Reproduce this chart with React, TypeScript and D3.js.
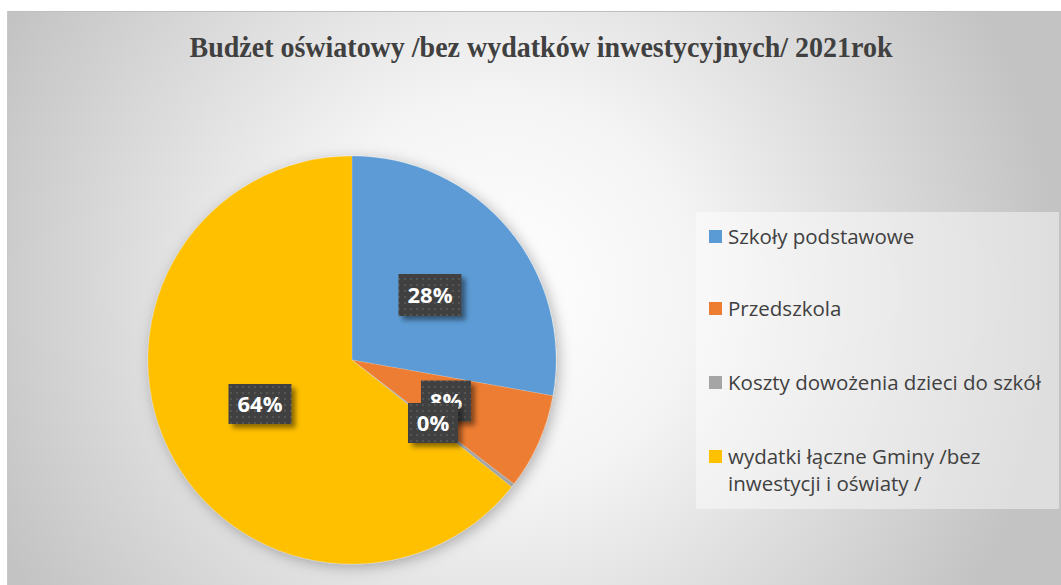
import React from "react";
import * as d3 from "d3";

const categories = [
  "Szkoły podstawowe",
  "Przedszkola",
  "Koszty dowożenia dzieci do szkół",
  "wydatki łączne Gminy /bez inwestycji i oświaty /",
];
const values = [27.8, 7.6, 0.3, 64.3];
const labels = ["28%", "8%", "0%", "64%"];
const colors = ["#5B9BD5", "#ED7D31", "#A5A5A5", "#FFC000"];
const title = "Budżet oświatowy /bez wydatków inwestycyjnych/ 2021rok";
const legendLines = [
  ["Szkoły podstawowe"],
  ["Przedszkola"],
  ["Koszty dowożenia dzieci do szkół"],
  ["wydatki łączne Gminy /bez", "inwestycji i oświaty /"],
];

export default function App() {
  const W = 1061, H = 585;
  const cx = 352, cy = 360, r = 204;
  const pie = d3.pie<number>().sort(null).value((d) => d)(values);
  const arc = d3.arc<d3.PieArcDatum<number>>().innerRadius(0).outerRadius(r);
  const boxes = [
    { x: 430, y: 295, w: 63, h: 42 },
    { x: 446, y: 401, w: 50, h: 41 },
    { x: 433, y: 423, w: 50, h: 40 },
    { x: 260, y: 404, w: 63, h: 40 },
  ];
  const legendY = [237, 309, 383, 457];
  return (
    <svg width={W} height={H} style={{ position: "absolute", left: 0, top: 0 }}>
      <defs>
        <radialGradient id="bg" cx="500" cy="290" r="560" gradientUnits="userSpaceOnUse">
          <stop offset="0" stopColor="#ffffff" />
          <stop offset="0.35" stopColor="#f4f4f4" />
          <stop offset="1" stopColor="#c3c3c3" />
        </radialGradient>
        <filter id="pieShadow" x="-20%" y="-20%" width="140%" height="140%">
          <feGaussianBlur in="SourceAlpha" stdDeviation="7" />
          <feOffset dx="3" dy="3" result="b" />
          <feFlood floodColor="#000" floodOpacity="0.28" />
          <feComposite in2="b" operator="in" />
          <feMerge>
            <feMergeNode />
            <feMergeNode in="SourceGraphic" />
          </feMerge>
        </filter>
        <filter id="boxShadow" x="-30%" y="-30%" width="160%" height="160%">
          <feGaussianBlur in="SourceAlpha" stdDeviation="2.5" />
          <feOffset dx="4" dy="4" result="b" />
          <feFlood floodColor="#000" floodOpacity="0.45" />
          <feComposite in2="b" operator="in" />
          <feMerge>
            <feMergeNode />
            <feMergeNode in="SourceGraphic" />
          </feMerge>
        </filter>
        <pattern id="dots" width="6" height="6" patternUnits="userSpaceOnUse">
          <rect width="6" height="6" fill="#404040" />
          <rect x="2" y="2" width="2" height="2" fill="#555555" />
        </pattern>
      </defs>
      <rect x={7} y={11} width={W - 7} height={H - 11} fill="url(#bg)" />
      <line x1={7} y1={11.5} x2={W} y2={11.5} stroke="#bdbdbd" strokeWidth={1} />
      <line x1={7.5} y1={11} x2={7.5} y2={H} stroke="#c8c8c8" strokeWidth={1} />
      <text
        x={541}
        y={57}
        textAnchor="middle"
        fontFamily="'Liberation Serif', 'Times New Roman', serif"
        fontWeight="bold"
        fontSize={29}
        textLength={703}
        lengthAdjust="spacingAndGlyphs"
        fill="#404040"
      >
        {title}
      </text>
      <g transform={`translate(${cx},${cy})`} filter="url(#pieShadow)">
        {pie.map((d, i) => (
          <path key={i} d={arc(d) || ""} fill={colors[i]} stroke="#ffffff" strokeWidth={0.5} strokeOpacity={0.3} />
        ))}
      </g>
      {boxes.map((b, i) => (
        <g key={i}>
          <rect
            x={b.x - b.w / 2}
            y={b.y - b.h / 2}
            width={b.w}
            height={b.h}
            fill="url(#dots)"
            filter="url(#boxShadow)"
          />
          <text
            x={b.x}
            y={b.y + 8}
            textAnchor="middle"
            fontFamily="'Open Sans', 'Noto Sans', sans-serif"
            fontWeight="bold"
            fontSize={22}
            fill="#ffffff"
          >
            {labels[i]}
          </text>
        </g>
      ))}
      <rect x={696} y={212} width={363} height={297} fill="#ffffff" fillOpacity={0.45} />
      {categories.map((c, i) => (
        <g key={c}>
          <rect x={709} y={legendY[i] - 7} width={13} height={13} fill={colors[i]} />
          {legendLines[i].map((ln, j) => (
            <text
              key={j}
              x={728}
              y={legendY[i] + 7 + j * 27}
              fontFamily="'Open Sans', 'Noto Sans', sans-serif"
              fontSize={20.5}
              fill="#404040"
            >
              {ln}
            </text>
          ))}
        </g>
      ))}
    </svg>
  );
}
